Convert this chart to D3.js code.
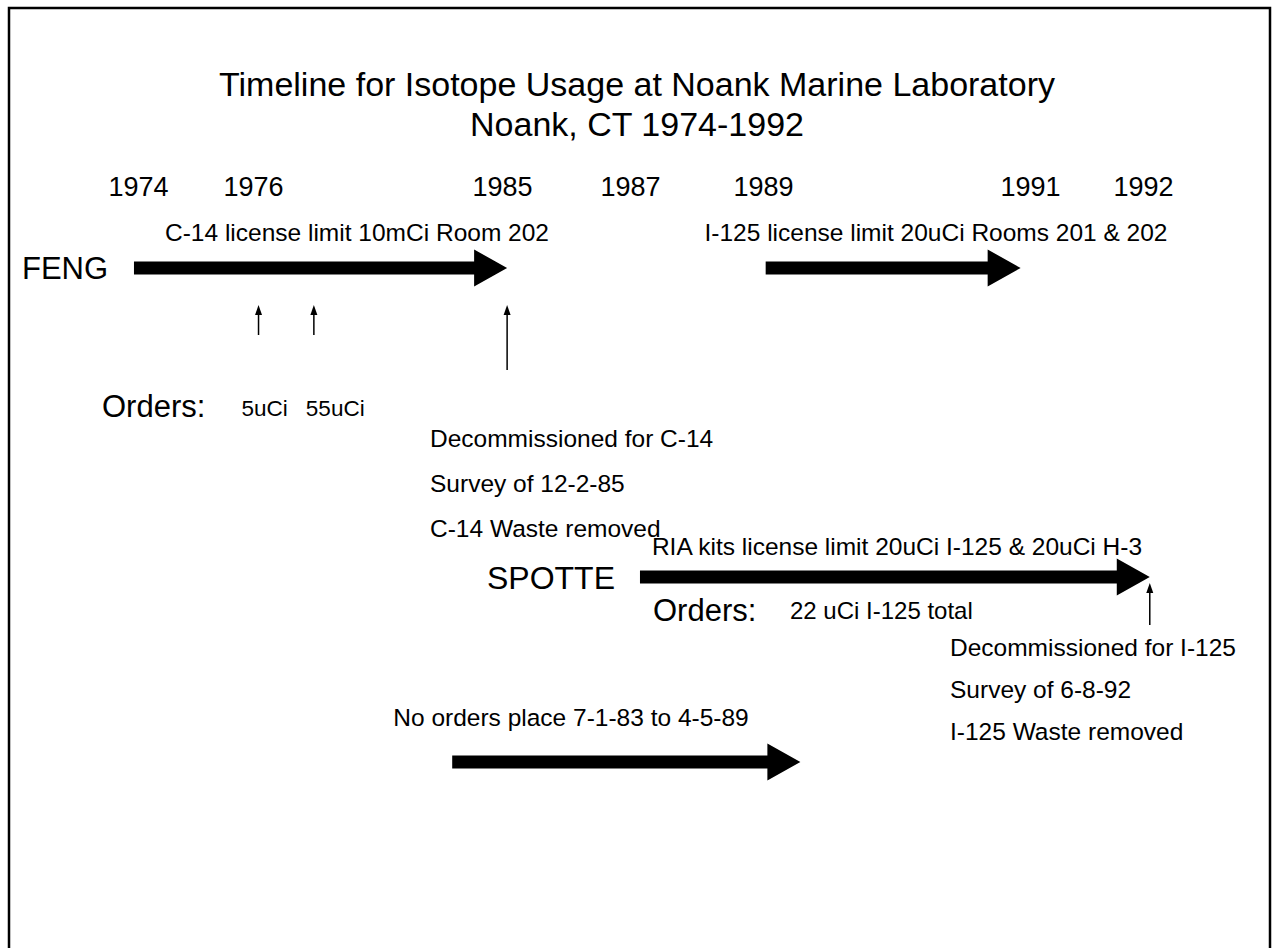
<!DOCTYPE html>
<html>
<head>
<meta charset="utf-8">
<script src="https://cdn.jsdelivr.net/npm/d3@7"></script>
<style>
  html, body { margin: 0; padding: 0; background: #fff; }
  svg { display: block; }
  text { font-family: "Liberation Sans", Arial, sans-serif; fill: #000; }
</style>
</head>
<body>
<div id="chart"></div>
<script>
// ---- data ----
const titleLines = ["Timeline for Isotope Usage at Noank Marine Laboratory", "Noank, CT 1974-1992"];
const yearTicks = [1974, 1976, 1985, 1987, 1989, 1991, 1992];
const rowNames = ["FENG", "SPOTTE", "GAP"];
const rowLabels = ["FENG", "SPOTTE", ""];
// big period arrows
const periodRows = ["FENG", "FENG", "SPOTTE", "GAP"];
const periodStart = [1973.93, 1989.02, 1987.15, 1983.2];
const periodEnd = [1985.08, 1990.93, 1992.06, 1989.28];
const periodText = [
  "C-14 license limit 10mCi Room 202",
  "I-125 license limit 20uCi Rooms 201 & 202",
  "RIA kits license limit 20uCi I-125 & 20uCi H-3",
  "No orders place 7-1-83 to 4-5-89"
];
// small event arrows (orders / decommission)
const eventRows = ["FENG", "FENG", "FENG", "SPOTTE"];
const eventYears = [1976.2, 1978.2, 1985.08, 1992.06];
const eventLabels = ["5uCi", "55uCi", "", ""];
// decommission notes
const noteLines = [
  ["Decommissioned for C-14", "Survey of 12-2-85", "C-14 Waste removed"],
  ["Decommissioned for I-125", "Survey of 6-8-92", "I-125 Waste removed"]
];
const ordersSummary = ["", "22 uCi I-125 total"];

// ---- layout ----
const W = 1276, H = 948;
const svg = d3.select("#chart").append("svg").attr("width", W).attr("height", H);

// non-uniform timeline scale (year label centres)
const x = d3.scaleLinear().domain(yearTicks).range([138, 253, 502, 630, 763, 1030, 1143]);
const yRow = d3.scaleOrdinal().domain(rowNames).range([268, 577, 762]);

// frame
svg.append("rect").attr("x", 9).attr("y", 8).attr("width", 1261).attr("height", 960)
  .attr("fill", "none").attr("stroke", "#000").attr("stroke-width", 2.5);

// title
svg.selectAll("text.title").data(titleLines).join("text")
  .attr("class", "title")
  .attr("x", 637).attr("y", (d, i) => 96 + i * 40)
  .attr("text-anchor", "middle").style("font-size", "34px").text(d => d);

// year axis (labels only)
const axis = d3.axisTop(x).tickValues(yearTicks).tickFormat(d3.format("d")).tickSize(0).tickPadding(0);
const gAxis = svg.append("g").attr("transform", "translate(0,196)").call(axis);
gAxis.select(".domain").remove();
gAxis.selectAll("text").style("font-family", "'Liberation Sans', Arial, sans-serif")
  .style("font-size", "27px").attr("fill", "#000").attr("dy", 0);

// arrow path generator
function bigArrow(x0, x1, y, shaft, head, headLen) {
  const hb = x1 - headLen;
  return `M${x0},${y - shaft / 2}L${hb},${y - shaft / 2}L${hb},${y - head / 2}L${x1},${y}` +
    `L${hb},${y + head / 2}L${hb},${y + shaft / 2}L${x0},${y + shaft / 2}Z`;
}

// row labels
svg.append("text").attr("x", 22).attr("y", yRow("FENG") + 11).style("font-size", "31px").text(rowLabels[0]);
svg.append("text").attr("x", 615).attr("y", yRow("SPOTTE") + 12).attr("text-anchor", "end")
  .style("font-size", "32px").text(rowLabels[1]);

// period arrows
const periods = periodRows.map((r, i) => ({ row: r, s: periodStart[i], e: periodEnd[i], t: periodText[i] }));
svg.selectAll("path.period").data(periods).join("path")
  .attr("class", "period")
  .attr("d", d => bigArrow(x(d.s), x(d.e), yRow(d.row), 13, 37, 33))
  .attr("fill", "#000");

// period captions
const captionX = [357, 936, 897, 571];
const captionDy = [-27, -27, -22, -36];
svg.selectAll("text.cap").data(periods).join("text")
  .attr("class", "cap")
  .attr("x", (d, i) => captionX[i])
  .attr("y", (d, i) => yRow(d.row) + captionDy[i])
  .attr("text-anchor", "middle").style("font-size", "24.5px").text(d => d.t);

// small event arrows
const events = eventRows.map((r, i) => ({ row: r, yr: eventYears[i], lab: eventLabels[i] }));
const evTop = [37, 37, 37, 6];
const evLen = [30, 30, 65, 42];
events.forEach((d, i) => {
  const cx = x(d.yr), y0 = yRow(d.row) + evTop[i];
  svg.append("line").attr("x1", cx).attr("x2", cx).attr("y1", y0 + 6).attr("y2", y0 + evLen[i])
    .attr("stroke", "#000").attr("stroke-width", 1.5);
  svg.append("path").attr("d", `M${cx},${y0}L${cx - 3.5},${y0 + 10}L${cx + 3.5},${y0 + 10}Z`).attr("fill", "#000");
});

// "Orders:" labels
svg.append("text").attr("x", 102).attr("y", yRow("FENG") + 149).style("font-size", "31px").text("Orders:");
svg.append("text").attr("x", 653).attr("y", yRow("SPOTTE") + 44).style("font-size", "31px").text("Orders:");
const evLabOffset = [-17, -8];
svg.selectAll("text.evlab").data(events.filter(d => d.lab)).join("text")
  .attr("class", "evlab")
  .attr("x", (d, i) => x(d.yr) + evLabOffset[i]).attr("y", d => yRow(d.row) + 148)
  .style("font-size", "22.5px").text(d => d.lab);
svg.append("text").attr("x", 790).attr("y", yRow("SPOTTE") + 42).style("font-size", "24px").text(ordersSummary[1]);

// decommission notes
const noteX = [430, 950];
const noteY0 = [447, 656];
const noteGap = [45, 42];
noteLines.forEach((lines, k) => {
  svg.selectAll(null).data(lines).join("text")
    .attr("x", noteX[k]).attr("y", (d, i) => noteY0[k] + i * noteGap[k])
    .style("font-size", "24.5px").text(d => d);
});
</script>
</body>
</html>
